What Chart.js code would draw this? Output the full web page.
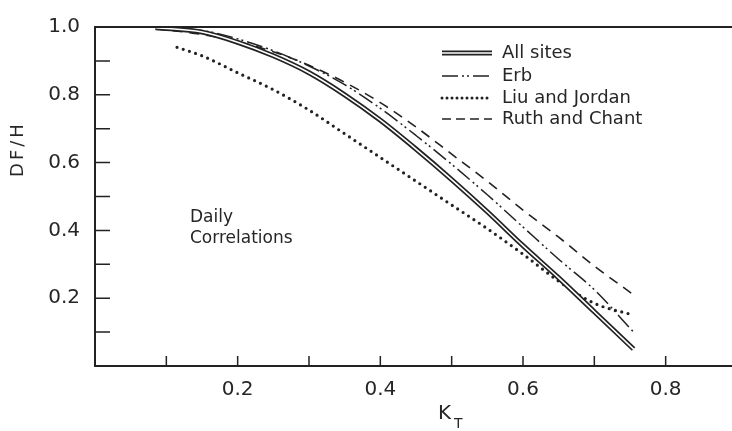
<!DOCTYPE html>
<html>
<head>
<meta charset="utf-8">
<script src="https://cdn.jsdelivr.net/npm/chart.js@4"></script>
<style>body{margin:0;background:#fff}</style>
</head>
<body>
<canvas id="chart" width="732" height="431"></canvas>
<script>
// values
const kt = [0.085, 0.15, 0.2, 0.25, 0.3, 0.35, 0.4, 0.45, 0.5, 0.55, 0.6, 0.65, 0.7, 0.755];
const allSites = [0.998, 0.985, 0.955, 0.915, 0.865, 0.8, 0.725, 0.64, 0.55, 0.455, 0.355, 0.26, 0.16, 0.05];
const erb = [0.998, 0.99, 0.965, 0.93, 0.885, 0.83, 0.76, 0.68, 0.595, 0.505, 0.41, 0.315, 0.225, 0.10];
const ruthChant = [0.995, 0.978, 0.957, 0.927, 0.887, 0.837, 0.777, 0.705, 0.625, 0.545, 0.46, 0.38, 0.295, 0.21];
const liuKt = [0.115, 0.15, 0.2, 0.25, 0.3, 0.35, 0.4, 0.45, 0.5, 0.55, 0.6, 0.65, 0.7, 0.755];
const liuJordan = [0.94, 0.915, 0.865, 0.815, 0.755, 0.685, 0.615, 0.545, 0.475, 0.405, 0.33, 0.25, 0.185, 0.15];

const xTicks = [0.2, 0.4, 0.6, 0.8];
const yTicks = [0.2, 0.4, 0.6, 0.8, 1.0];
const xMinor = [0.1, 0.2, 0.3, 0.4, 0.5, 0.6, 0.7, 0.8];
const yMinor = [0.1, 0.2, 0.3, 0.4, 0.5, 0.6, 0.7, 0.8, 0.9];
const legendLabels = ['All sites', 'Erb', 'Liu and Jordan', 'Ruth and Chant'];

const ink = '#222';
const textCol = '#262626';
const FONT = '"DejaVu Sans", sans-serif';

const pts = (xs, ys) => xs.map((x, i) => ({x: x, y: ys[i]}));

const lineBase = {pointRadius: 0, fill: false, cubicInterpolationMode: 'monotone', borderColor: ink};

// inward tick marks, top frame, titles, legend and note
const decor = {
  id: 'decor',
  afterDraw(chart) {
    const ctx = chart.ctx;
    const a = chart.chartArea;
    const xs = chart.scales.x, ys = chart.scales.y;
    ctx.save();
    ctx.strokeStyle = ink;
    ctx.lineWidth = 2;
    ctx.beginPath();
    ctx.moveTo(a.left - 1, a.top);
    ctx.lineTo(a.right, a.top);
    ctx.stroke();
    ctx.lineWidth = 1.5;
    ctx.beginPath();
    yMinor.forEach(v => {
      const p = ys.getPixelForValue(v);
      ctx.moveTo(a.left, p); ctx.lineTo(a.left + 15, p);
    });
    xMinor.forEach(v => {
      const p = xs.getPixelForValue(v);
      ctx.moveTo(p, a.bottom); ctx.lineTo(p, a.bottom - 10);
    });
    ctx.stroke();

    ctx.fillStyle = textCol;
    // y title
    ctx.save();
    ctx.translate(18, 149);
    ctx.rotate(-Math.PI / 2);
    ctx.font = '18px ' + FONT;
    ctx.letterSpacing = '3px';
    ctx.textAlign = 'center';
    ctx.textBaseline = 'middle';
    ctx.fillText('DF/H', 0, 0);
    ctx.restore();

    // x title K_T
    ctx.textBaseline = 'middle';
    ctx.textAlign = 'left';
    ctx.font = '20px ' + FONT;
    ctx.fillText('K', 438, 414);
    ctx.font = '14px ' + FONT;
    ctx.fillText('T', 454, 424);

    // note
    ctx.font = '17px ' + FONT;
    ctx.fillText('Daily', 190, 218);
    ctx.fillText('Correlations', 190, 239);

    // legend
    const lx0 = 442, lx1 = 492, tx = 502;
    const rows = [53, 76, 98, 119];
    ctx.font = '18px ' + FONT;
    legendLabels.forEach((lab, i) => {
      const y = rows[i];
      ctx.fillText(lab, tx, y);
      ctx.beginPath();
      ctx.lineCap = 'butt';
      ctx.setLineDash([]);
      if (i === 0) {
        ctx.strokeStyle = ink; ctx.lineWidth = 5;
        ctx.moveTo(lx0, y); ctx.lineTo(lx1, y); ctx.stroke();
        ctx.beginPath();
        ctx.strokeStyle = '#fff'; ctx.lineWidth = 1.6;
        ctx.moveTo(lx0, y); ctx.lineTo(lx1, y); ctx.stroke();
      } else if (i === 1) {
        ctx.strokeStyle = ink; ctx.lineWidth = 1.5;
        ctx.setLineDash([16, 4, 2, 3, 2, 4]);
        ctx.moveTo(lx0, y); ctx.lineTo(lx1, y); ctx.stroke();
      } else if (i === 2) {
        ctx.strokeStyle = ink; ctx.lineWidth = 3;
        ctx.lineCap = 'round';
        ctx.setLineDash([0, 5]);
        ctx.moveTo(lx0, y); ctx.lineTo(lx1, y); ctx.stroke();
      } else {
        ctx.strokeStyle = ink; ctx.lineWidth = 1.6;
        ctx.setLineDash([9, 5]);
        ctx.moveTo(lx0, y); ctx.lineTo(lx1, y); ctx.stroke();
      }
    });
    ctx.restore();
  }
};

new Chart(document.getElementById('chart').getContext('2d'), {
  type: 'line',
  data: {
    datasets: [
      Object.assign({}, lineBase, {label: 'All sites gap', data: pts(kt, allSites), borderColor: '#fff', borderWidth: 1.6, order: 0}),
      Object.assign({}, lineBase, {label: 'All sites', data: pts(kt, allSites), borderWidth: 5, order: 1}),
      Object.assign({}, lineBase, {label: 'Erb', data: pts(kt, erb), borderWidth: 1.5, borderDash: [16, 4, 2, 3, 2, 4], order: 2}),
      Object.assign({}, lineBase, {label: 'Liu and Jordan', data: pts(liuKt, liuJordan), borderWidth: 3.2, borderDash: [0, 6.5], borderCapStyle: 'round', order: 2}),
      Object.assign({}, lineBase, {label: 'Ruth and Chant', data: pts(kt, ruthChant), borderWidth: 1.6, borderDash: [10, 7], order: 2})
    ]
  },
  options: {
    responsive: false,
    animation: false,
    devicePixelRatio: 1,
    layout: {padding: {top: 20, right: 0, left: 0, bottom: 0}},
    plugins: {legend: {display: false}, tooltip: {enabled: false}},
    scales: {
      x: {
        type: 'linear', min: 0, max: 0.893,
        grid: {display: false, drawTicks: false},
        border: {display: true, color: ink, width: 2},
        afterBuildTicks: s => { s.ticks = xTicks.map(v => ({value: v})); },
        afterFit: s => { s.height = 65; },
        ticks: {font: {family: FONT, size: 20}, color: textCol, padding: 12, callback: v => v.toFixed(1), maxRotation: 0}
      },
      y: {
        type: 'linear', min: 0, max: 1,
        grid: {display: false, drawTicks: false},
        border: {display: true, color: ink, width: 2},
        afterBuildTicks: s => { s.ticks = yTicks.map(v => ({value: v})); },
        afterFit: s => { s.width = 95; },
        ticks: {font: {family: FONT, size: 20}, color: textCol, padding: 15, callback: v => v.toFixed(1)}
      }
    }
  },
  plugins: [decor]
});
</script>
</body>
</html>
